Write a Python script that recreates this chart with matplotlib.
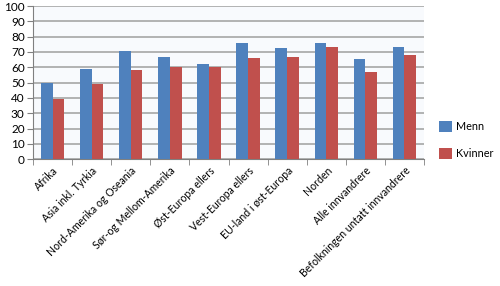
import matplotlib
matplotlib.use('Agg')
import matplotlib.pyplot as plt
import numpy as np

categories = ['Afrika', 'Asia inkl. Tyrkia', 'Nord-Amerika og Oseania', 'Sør-og Mellom-Amerika',
              'Øst-Europa ellers', 'Vest-Europa ellers', 'EU-land i øst-Europa', 'Norden',
              'Alle innvandrere', 'Befolkningen untatt innvandrere']
menn = [50, 59, 70.6, 66.7, 62.4, 75.7, 72.8, 75.9, 65.6, 73]
kvinner = [39.5, 49, 58.2, 60, 60, 65.9, 66.5, 73, 57.2, 68]

plt.rcParams['font.family'] = ['Lato', 'DejaVu Sans']

fig = plt.figure(figsize=(5, 2.86), dpi=100)
ax = fig.add_axes([0.066, 0.443, 0.782, 0.536])
ax.set_facecolor('#f8fafd')

x = np.arange(len(categories))
w = 0.3
ax.bar(x - w / 2, menn, w, color='#4f81bd', label='Menn', zorder=3)
ax.bar(x + w / 2, kvinner, w, color='#c0504d', label='Kvinner', zorder=3)

ax.set_xlim(-0.5, len(categories) - 0.5)
ax.set_ylim(0, 100)
ax.set_yticks(range(0, 101, 10))
ax.yaxis.grid(True, color='#a6a6a6', linewidth=1.2, zorder=0)
ax.tick_params(axis='y', labelsize=8.5, length=4, color='#808080', pad=2)

ax.set_xticks(np.arange(len(categories) + 1) - 0.5, minor=True)
ax.set_xticks(x)
ax.set_xticklabels(categories, rotation=45, ha='right', rotation_mode='anchor', fontsize=7.6)
ax.tick_params(axis='x', which='major', length=0, pad=4)
ax.tick_params(axis='x', which='minor', length=4, color='#808080')

for s in ['top', 'right']:
    ax.spines[s].set_visible(False)
ax.spines['left'].set_color('#808080')
ax.spines['bottom'].set_color('#808080')

leg = fig.legend(loc='upper left', bbox_to_anchor=(0.878, 0.578), frameon=False, fontsize=7.8,
                 handlelength=1.2, handleheight=1.2, labelspacing=1.5, handletextpad=0.4,
                 borderaxespad=0, borderpad=0)

fig.savefig('out.png', dpi=100)
